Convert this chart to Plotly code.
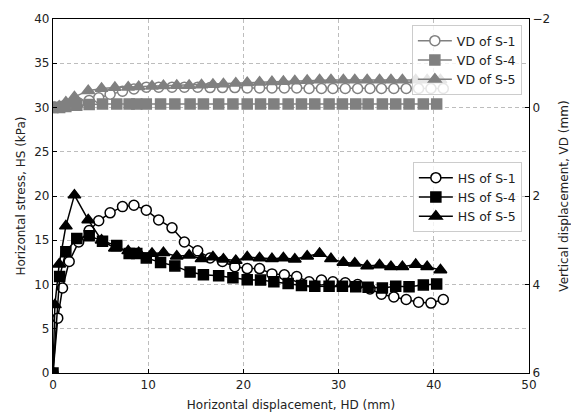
import plotly.graph_objects as go

# ---- data ----
x_s1 = [0, 0.5, 1.0, 1.7, 2.7, 3.8, 4.8, 6.0, 7.3, 8.5, 9.8, 11.1, 12.5, 13.8, 15.2, 16.5, 17.8, 19.1, 20.4, 21.7,
        23.0, 24.3, 25.6, 26.9, 28.2, 29.4, 30.7, 32.0, 33.3, 34.5, 35.8, 37.1, 38.4, 39.7, 41.0]
hs_s1 = [0, 6.2, 9.6, 12.6, 14.8, 16.1, 17.2, 18.1, 18.8, 18.95, 18.4, 17.3, 16.4, 14.8, 13.8, 13.0, 12.6, 12.0, 11.8, 11.8,
         11.2, 11.1, 10.9, 10.3, 10.5, 10.3, 10.2, 10.0, 9.5, 8.9, 8.6, 8.3, 8.0, 7.9, 8.3]
vd_s1 = [0, 0, -0.02, -0.05, -0.1, -0.16, -0.22, -0.3, -0.37, -0.42, -0.46, -0.46, -0.46, -0.46, -0.46, -0.45, -0.45, -0.45, -0.44, -0.44,
         -0.44, -0.44, -0.44, -0.43, -0.43, -0.43, -0.43, -0.43, -0.43, -0.43, -0.43, -0.43, -0.43, -0.43, -0.43]

x_s4 = [0, 0.7, 1.35, 2.5, 3.8, 5.2, 6.7, 8.0, 8.8, 9.8, 11.3, 12.8, 14.4, 15.8, 17.4, 18.9, 20.4, 21.8, 23.2, 24.7,
        26.1, 27.5, 29.0, 30.4, 31.8, 33.1, 34.6, 36.0, 37.4, 38.9, 40.3]
hs_s4 = [0, 10.9, 13.7, 15.2, 15.5, 14.9, 14.4, 13.5, 13.5, 13.0, 12.5, 12.1, 11.4, 11.1, 11.0, 10.75, 10.55, 10.5, 10.3, 10.1,
         9.9, 9.8, 9.8, 9.8, 9.75, 9.7, 9.6, 9.8, 9.75, 9.95, 10.05]
vd_s4 = [0, 0, -0.02, -0.05, -0.07, -0.08, -0.08, -0.08, -0.08, -0.08, -0.08, -0.08, -0.08, -0.08, -0.08, -0.08, -0.08, -0.08, -0.08, -0.08,
         -0.08, -0.08, -0.08, -0.08, -0.08, -0.08, -0.08, -0.08, -0.08, -0.08, -0.08]

x_s5 = [0, 0.2, 0.65, 1.35, 2.25, 3.7, 5.1, 6.5, 7.9, 9.0, 10.4, 11.6, 13.0, 14.3, 15.6, 16.8, 17.9, 19.2, 20.4, 21.7,
        23.0, 24.2, 25.4, 26.7, 28.0, 29.2, 30.5, 31.7, 33.0, 34.3, 35.5, 36.7, 38.1, 39.3, 40.7]
hs_s5 = [0, 7.7, 12.3, 16.6, 20.1, 17.3, 15.0, 14.1, 13.8, 13.6, 13.5, 13.6, 13.2, 13.3, 12.9, 13.1, 12.85, 12.7, 13.1, 13.0,
         12.9, 13.0, 12.85, 13.2, 13.5, 12.9, 12.5, 12.4, 12.1, 12.2, 12.0, 12.0, 12.25, 12.0, 11.65]
vd_s5 = [0, 0, -0.03, -0.12, -0.24, -0.38, -0.43, -0.45, -0.46, -0.47, -0.48, -0.49, -0.5, -0.5, -0.51, -0.52, -0.53, -0.55, -0.56, -0.57,
         -0.58, -0.59, -0.6, -0.61, -0.62, -0.62, -0.62, -0.62, -0.62, -0.62, -0.62, -0.62, -0.62, -0.62, -0.62]

vd_ticks = [-2, 0, 2, 4, 6]
vd_ticktext = ["\u22122", "0", "2", "4", "6"]

BLACK = "#000000"
GRAY = "#808080"
FONT = "DejaVu Sans"
TXT = "#222222"

fig = go.Figure()

def add(x, y, name, color, symbol, fill, axis, legend, size):
    fig.add_trace(go.Scatter(
        x=x, y=y, name=name, mode="lines+markers", yaxis=axis, legend=legend,
        line=dict(color=color, width=1.5),
        marker=dict(symbol=symbol, size=size, color=fill, line=dict(color=color, width=1.5)),
    ))

add(x_s1, hs_s1, "HS of S-1", BLACK, "circle", "white", "y", "legend2", 10)
add(x_s4, hs_s4, "HS of S-4", BLACK, "square", BLACK, "y", "legend2", 10)
add(x_s5, hs_s5, "HS of S-5", BLACK, "triangle-up", BLACK, "y", "legend2", 11)
add(x_s1, vd_s1, "VD of S-1", GRAY, "circle", "white", "y2", "legend", 10)
add(x_s4, vd_s4, "VD of S-4", GRAY, "square", GRAY, "y2", "legend", 10)
add(x_s5, vd_s5, "VD of S-5", GRAY, "triangle-up", GRAY, "y2", "legend", 11)

axis_common = dict(
    showline=True, linecolor="black", linewidth=1.2,
    ticks="inside", ticklen=4, tickcolor="black", tickwidth=1,
    tickfont=dict(family=FONT, size=12, color=TXT),
    zeroline=False, automargin=False,
)
grid = dict(showgrid=True, gridcolor="#bdbdbd", griddash="4px,3px", gridwidth=1)

leg = dict(
    bgcolor="rgba(255,255,255,0.8)", bordercolor="#cccccc", borderwidth=1,
    font=dict(family=FONT, size=12.5, color=TXT),
    xanchor="right", yanchor="top", tracegroupgap=0, itemwidth=34,
)

fig.update_layout(
    width=571, height=412,
    margin=dict(l=53, r=42, t=19, b=39),
    paper_bgcolor="white", plot_bgcolor="white",
    font=dict(family=FONT, size=12, color=TXT),
    xaxis=dict(range=[0, 50], dtick=10, mirror=True,
               title=dict(text="Horizontal displacement, HD (mm)", standoff=10,
                          font=dict(family=FONT, size=12, color=TXT)),
               **grid, **axis_common),
    yaxis=dict(range=[0, 40], dtick=5, mirror=True,
               title=dict(text="Horizontal stress, HS (kPa)", standoff=6,
                          font=dict(family=FONT, size=12, color=TXT)),
               **grid, **axis_common),
    yaxis2=dict(range=[6, -2], overlaying="y", side="right",
                tickvals=vd_ticks, ticktext=vd_ticktext, showgrid=False,
                title=dict(text="Vertical displacement, VD (mm)", standoff=14,
                           font=dict(family=FONT, size=12, color=TXT)),
                **axis_common),
    legend=dict(x=0.985, y=0.983, **leg),
    legend2=dict(x=0.985, y=0.596, **leg),
    showlegend=True,
)

fig.write_html("out.html")
